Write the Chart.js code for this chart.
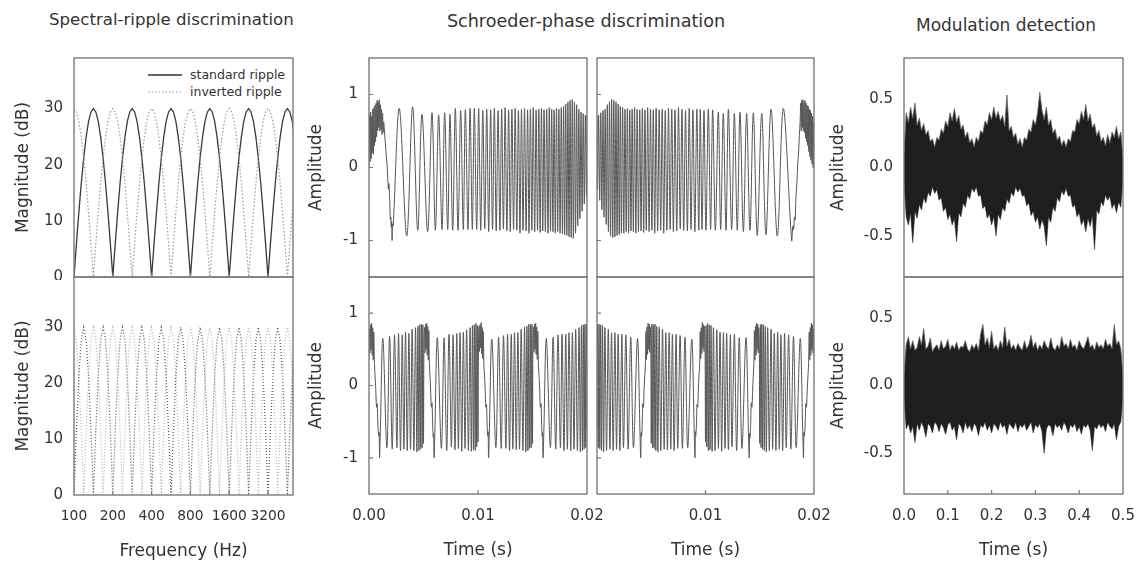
<!DOCTYPE html>
<html><head><meta charset="utf-8">
<script src="https://cdn.jsdelivr.net/npm/chart.js@4.4.1/dist/chart.umd.min.js"></script>
<style>
html,body{margin:0;padding:0;background:#fff;}
#wrap{position:relative;width:1145px;height:563px;overflow:hidden;font-family:'DejaVu Sans',sans-serif;color:#333;}
canvas{position:absolute;}
.title{position:absolute;font-size:17px;line-height:20px;white-space:nowrap;}
.leg{position:absolute;font-size:12.5px;line-height:16px;height:16px;white-space:nowrap;}
.leg svg{vertical-align:top;}
</style></head><body><div id="wrap">
<div class="title" style="left:49px;top:10px;font-size:16.6px">Spectral-ripple discrimination</div>
<div class="title" style="left:586px;top:11px;font-size:17.6px;transform:translateX(-50%)">Schroeder-phase discrimination</div>
<div class="title" style="left:916px;top:15px">Modulation detection</div>
<div class="leg" style="left:148px;top:67px"><svg width="34" height="16"><line x1="0" y1="8" x2="34" y2="8" stroke="#333" stroke-width="1.3"/></svg><span style="margin-left:8px">standard ripple</span></div>
<div class="leg" style="left:148px;top:84px"><svg width="34" height="16"><line x1="0" y1="8" x2="34" y2="8" stroke="#999" stroke-width="1.2" stroke-dasharray="1.5,2"/></svg><span style="margin-left:8px">inverted ripple</span></div>
</div>
<script>
// ---------------- data ----------------
// Spectral ripple (dB), sampled every 1/16 octave from 100 Hz
const freqGridStart = 100;
const freqGridStepOct = 1/16;
const freqTicks = [100, 200, 400, 800, 1600, 3200];
const magTicks = [0, 10, 20, 30];
const rippleTopStandard = [0,5.9,11.5,16.7,21.2,24.9,27.7,29.4,30,29.4,27.7,24.9,21.2,16.7,11.5,5.9,
0,5.9,11.5,16.7,21.2,24.9,27.7,29.4,30,29.4,27.7,24.9,21.2,16.7,11.5,5.9,
0,5.9,11.5,16.7,21.2,24.9,27.7,29.4,30,29.4,27.7,24.9,21.2,16.7,11.5,5.9,
0,5.9,11.5,16.7,21.2,24.9,27.7,29.4,30,29.4,27.7,24.9,21.2,16.7,11.5,5.9,
0,5.9,11.5,16.7,21.2,24.9,27.7,29.4,30,29.4,27.7,24.9,21.2,16.7,11.5,5.9,
0,5.9,11.5,16.7,21.2,24.9,27.7,29.4,30,29.4,27.7,24.9];
const rippleTopInverted = [30,29.4,27.7,24.9,21.2,16.7,11.5,5.9,0,5.9,11.5,16.7,21.2,24.9,27.7,29.4,
30,29.4,27.7,24.9,21.2,16.7,11.5,5.9,0,5.9,11.5,16.7,21.2,24.9,27.7,29.4,
30,29.4,27.7,24.9,21.2,16.7,11.5,5.9,0,5.9,11.5,16.7,21.2,24.9,27.7,29.4,
30,29.4,27.7,24.9,21.2,16.7,11.5,5.9,0,5.9,11.5,16.7,21.2,24.9,27.7,29.4,
30,29.4,27.7,24.9,21.2,16.7,11.5,5.9,0,5.9,11.5,16.7,21.2,24.9,27.7,29.4,
30,29.4,27.7,24.9,21.2,16.7,11.5,5.9,0,5.9,11.5,16.7];
const rippleBottomStandard = [0,11.5,21.2,27.7,30,27.7,21.2,11.5, 0,11.5,21.2,27.7,30,27.7,21.2,11.5,
0,11.5,21.2,27.7,30,27.7,21.2,11.5, 0,11.5,21.2,27.7,30,27.7,21.2,11.5,
0,11.5,21.2,27.7,30,27.7,21.2,11.5, 0,11.5,21.2,27.7,30,27.7,21.2,11.5,
0,11.5,21.2,27.7,30,27.7,21.2,11.5, 0,11.5,21.2,27.7,30,27.7,21.2,11.5,
0,11.5,21.2,27.7,30,27.7,21.2,11.5, 0,11.5,21.2,27.7,30,27.7,21.2,11.5,
0,11.5,21.2,27.7,30,27.7,21.2,11.5, 0,11.5,21.2,27.7];
const rippleBottomInverted = [30,27.7,21.2,11.5,0,11.5,21.2,27.7, 30,27.7,21.2,11.5,0,11.5,21.2,27.7,
30,27.7,21.2,11.5,0,11.5,21.2,27.7, 30,27.7,21.2,11.5,0,11.5,21.2,27.7,
30,27.7,21.2,11.5,0,11.5,21.2,27.7, 30,27.7,21.2,11.5,0,11.5,21.2,27.7,
30,27.7,21.2,11.5,0,11.5,21.2,27.7, 30,27.7,21.2,11.5,0,11.5,21.2,27.7,
30,27.7,21.2,11.5,0,11.5,21.2,27.7, 30,27.7,21.2,11.5,0,11.5,21.2,27.7,
30,27.7,21.2,11.5,0,11.5,21.2,27.7, 30,27.7,21.2,11.5];

// Schroeder-phase waveforms: [time (ms), amplitude] at turning points
const ampTicks = [-1, 0, 1];
const timeTicksLeft = [0, 0.01, 0.02];
const timeTicksRight = [0.01, 0.02];
const schroederTopLeft = [
[0,0.0],[0.05,0.72],[0.1,0.08],[0.15,0.76],[0.2,0.12],[0.25,0.7],[0.3,0.2],[0.35,0.8],[0.4,0.18],[0.45,0.82],[0.5,0.3],[0.55,0.85],[0.6,0.35],[0.65,0.88],[0.7,0.42],[0.75,0.92],[0.8,0.5],[0.85,0.9],[0.9,0.55],[0.95,0.93],[1.0,0.5],[1.05,0.86],[1.1,0.52],[1.15,0.8],[1.2,0.45],[1.25,0.74],[1.3,0.48],[1.35,0.62],[1.42,0.5],
[1.55,0.22],[1.65,0.05],[1.72,-0.15],[1.78,-0.3],[1.83,-0.22],[1.9,-0.45],[1.96,-0.72],[2.0,-0.68],[2.04,-0.82],[2.08,-0.74],[2.12,-1.0],[2.17,-0.78],[2.22,-0.8],
[2.78,0.81],[3.46,-0.94],[4.0,0.83],[4.47,-0.86],[4.86,0.73],[5.38,-0.88],[5.78,0.75],[6.09,-0.86],[6.39,0.72],[6.70,-0.85],[6.94,0.75],[7.22,-0.85],[7.43,0.73],[7.68,-0.86],[7.92,0.81],[8.17,-0.86],[8.41,0.78],[8.65,-0.85],[8.84,0.79],[9.08,-0.85],[9.27,0.81],[9.48,-0.85],[9.66,0.81],[9.88,-0.85],[10.06,0.81],
[10.25,-0.86],[10.44,0.78],[10.62,-0.84],[10.80,0.8],[10.98,-0.88],[11.16,0.79],[11.33,-0.85],[11.50,0.81],[11.67,-0.87],[11.84,0.78],[12.01,-0.86],[12.17,0.8],[12.33,-0.84],[12.49,0.82],[12.65,-0.87],[12.81,0.79],[12.96,-0.88],[13.11,0.8],[13.26,-0.85],[13.41,0.81],[13.56,-0.86],[13.71,0.78],[13.85,-0.9],[13.99,0.8],
[14.13,-0.86],[14.27,0.81],[14.41,-0.87],[14.55,0.79],[14.68,-0.9],[14.81,0.8],[14.94,-0.86],[15.07,0.82],[15.20,-0.88],[15.33,0.79],[15.46,-0.86],[15.58,0.8],[15.70,-0.89],[15.82,0.81],[15.94,-0.87],[16.06,0.79],[16.18,-0.88],[16.30,0.8],[16.42,-0.9],[16.54,0.82],[16.65,-0.87],[16.76,0.8],[16.87,-0.88],[16.98,0.79],
[17.09,-0.9],[17.20,0.81],[17.31,-0.88],[17.42,0.8],[17.53,-0.9],[17.64,0.82],[17.75,-0.91],[17.85,0.84],[17.95,-0.92],[18.05,0.87],[18.15,-0.93],[18.25,0.9],[18.35,-0.95],[18.45,0.92],[18.55,-0.96],[18.65,0.93],[18.75,-0.97],[18.85,0.9],[18.95,-0.9],[19.05,0.86],[19.15,-0.8],[19.25,0.8],[19.35,-0.7],[19.45,0.76],[19.55,-0.6],[19.65,0.74],[19.75,-0.5],[19.85,0.72],[19.95,-0.4],[20.0,0.7]
];
const schroederTopRight = [
[0,0.7],[0.05,-0.3],[0.15,0.72],[0.25,-0.45],[0.35,0.75],[0.45,-0.58],[0.55,0.78],[0.65,-0.68],[0.75,0.8],[0.85,-0.78],[0.95,0.86],[1.05,-0.88],[1.15,0.9],[1.25,-0.94],[1.35,0.93],[1.45,-0.96],[1.55,0.92],[1.65,-0.95],[1.75,0.9],[1.85,-0.93],[1.95,0.87],[2.05,-0.92],[2.15,0.84],[2.25,-0.9],[2.36,0.82],[2.47,-0.9],[2.58,0.8],[2.69,-0.88],[2.80,0.81],[2.91,-0.9],[3.02,0.79],[3.13,-0.87],[3.24,0.8],[3.35,-0.88],[3.46,0.82],[3.58,-0.9],[3.70,0.8],[3.82,-0.88],[3.94,0.79],[4.06,-0.87],[4.18,0.81],[4.30,-0.89],[4.42,0.79],[4.54,-0.86],[4.67,0.82],[4.80,-0.88],[4.93,0.8],[5.06,-0.86],[5.19,0.79],[5.32,-0.9],[5.45,0.81],[5.59,-0.87],[5.73,0.79],[5.87,-0.86],[6.01,0.8],[6.15,-0.9],[6.29,0.78],[6.44,-0.86],[6.59,0.81],[6.74,-0.85],[6.89,0.8],[7.04,-0.88],[7.19,0.79],[7.35,-0.87],[7.51,0.82],[7.67,-0.84],[7.83,0.8],[7.99,-0.86],[8.16,0.78],[8.33,-0.87],[8.50,0.81],[8.67,-0.85],[8.84,0.79],[9.02,-0.88],[9.20,0.8],[9.38,-0.86],
[9.52,0.8],[9.68,-0.85],[9.86,0.78],[10.04,-0.86],[10.26,0.8],[10.47,-0.85],[10.66,0.79],[10.91,-0.86],[11.18,0.76],[11.40,-0.85],[11.64,0.74],[11.89,-0.86],[12.11,0.8],[12.41,-0.85],[12.66,0.74],[12.93,-0.86],[13.18,0.76],[13.49,-0.88],[13.79,0.74],[14.1,-0.86],[14.41,0.75],[14.77,-0.93],[15.18,0.74],[15.57,-0.92],[16.04,0.8],[16.62,-0.94],[17.17,0.81],[17.94,-1.0],
[18.05,-0.8],[18.12,-0.85],[18.2,-0.68],[18.26,-0.72],[18.34,-0.4],[18.42,-0.22],[18.5,0.05],[18.58,0.2],[18.65,0.45],[18.72,0.62],
[18.77,0.88],[18.82,0.5],[18.87,0.92],[18.92,0.55],[18.97,0.93],[19.02,0.5],[19.07,0.9],[19.12,0.48],[19.17,0.92],[19.22,0.4],[19.27,0.88],[19.32,0.35],[19.37,0.85],[19.42,0.3],[19.47,0.84],[19.52,0.22],[19.57,0.8],[19.62,0.15],[19.67,0.78],[19.72,0.1],[19.77,0.74],[19.82,0.05],[19.87,0.7],[19.92,0.0],[19.97,0.62],[20.0,0.3]
];
const schroederBottomLeft = [
[0,0.4],[0.04,0.78],[0.09,0.45],[0.14,0.84],[0.19,0.5],[0.24,0.86],[0.29,0.42],[0.34,0.8],[0.39,0.35],[0.44,0.74],[0.5,0.3],
[0.55,0.15],[0.62,-0.05],[0.69,-0.3],[0.75,-0.25],[0.82,-0.55],[0.89,-0.7],[0.93,-0.65],[0.97,-1.0],[1.03,-0.7],
[1.27,0.65],[1.64,-0.86],[1.89,0.68],[2.13,-0.88],[2.34,0.7],[2.56,-0.86],[2.71,0.72],[2.89,-0.9],[3.05,0.7],[3.2,-0.88],[3.35,0.74],[3.51,-0.9],[3.66,0.72],[3.81,-0.88],[3.96,0.78],[4.12,-0.9],[4.27,0.8],[4.39,-0.92],[4.49,0.82],[4.58,-0.9],[4.66,0.84],[4.74,-0.88],[4.81,0.85],[4.88,-0.86],[4.94,0.84],[5.0,-0.8],
[5.04,0.55],[5.09,0.8],[5.14,0.45],[5.19,0.85],[5.24,0.5],[5.29,0.86],[5.34,0.42],[5.39,0.82],[5.44,0.35],[5.49,0.76],[5.54,0.3],
[5.6,0.12],[5.66,-0.08],[5.72,-0.3],[5.78,-0.24],[5.84,-0.55],[5.9,-0.72],[5.93,-0.66],[5.97,-1.0],[6.03,-0.72],
[6.27,0.66],[6.64,-0.87],[6.89,0.66],[7.13,-0.9],[7.34,0.71],[7.56,-0.85],[7.71,0.7],[7.89,-0.89],[8.05,0.72],[8.2,-0.87],[8.35,0.73],[8.51,-0.91],[8.66,0.74],[8.81,-0.87],[8.96,0.77],[9.12,-0.9],[9.27,0.8],[9.39,-0.91],[9.49,0.83],[9.58,-0.89],[9.66,0.84],[9.74,-0.9],[9.81,0.86],[9.88,-0.85],[9.94,0.83],[10.0,-0.78],
[10.04,0.52],[10.09,0.82],[10.14,0.47],[10.19,0.84],[10.24,0.52],[10.29,0.87],[10.34,0.44],[10.39,0.8],[10.44,0.37],[10.49,0.75],[10.54,0.28],
[10.6,0.14],[10.66,-0.06],[10.72,-0.3],[10.78,-0.26],[10.84,-0.56],[10.9,-0.7],[10.93,-0.64],[10.97,-1.0],[11.03,-0.7],
[11.27,0.64],[11.64,-0.86],[11.89,0.67],[12.13,-0.87],[12.34,0.69],[12.56,-0.87],[12.71,0.71],[12.89,-0.9],[13.05,0.71],[13.2,-0.88],[13.35,0.73],[13.51,-0.89],[13.66,0.73],[13.81,-0.88],[13.96,0.78],[14.12,-0.9],[14.27,0.81],[14.39,-0.92],[14.49,0.82],[14.58,-0.9],[14.66,0.85],[14.74,-0.87],[14.81,0.84],[14.88,-0.86],[14.94,0.85],[15.0,-0.8],
[15.04,0.54],[15.09,0.81],[15.14,0.46],[15.19,0.85],[15.24,0.5],[15.29,0.86],[15.34,0.43],[15.39,0.81],[15.44,0.36],[15.49,0.75],[15.54,0.3],
[15.6,0.13],[15.66,-0.06],[15.72,-0.3],[15.78,-0.25],[15.84,-0.55],[15.9,-0.71],[15.93,-0.65],[15.97,-1.0],[16.03,-0.71],
[16.27,0.65],[16.64,-0.86],[16.89,0.67],[17.13,-0.88],[17.34,0.7],[17.56,-0.86],[17.71,0.71],[17.89,-0.9],[18.05,0.71],[18.2,-0.88],[18.35,0.73],[18.51,-0.9],[18.66,0.73],[18.81,-0.88],[18.96,0.78],[19.12,-0.9],[19.27,0.8],[19.39,-0.92],[19.49,0.83],[19.58,-0.9],[19.66,0.84],[19.74,-0.88],[19.81,0.85],[19.88,-0.86],[19.94,0.84],[20.0,-0.6]
];
const schroederBottomRight = [
[0,-0.6],[0.06,0.84],[0.12,-0.86],[0.19,0.85],[0.26,-0.88],[0.34,0.84],[0.42,-0.9],[0.51,0.83],[0.61,-0.92],[0.73,0.8],[0.88,-0.9],[1.04,0.78],[1.19,-0.88],[1.34,0.73],[1.49,-0.9],[1.65,0.73],[1.8,-0.88],[1.95,0.71],[2.11,-0.9],[2.29,0.71],[2.44,-0.86],[2.66,0.7],[2.87,-0.88],[3.11,0.67],[3.36,-0.86],[3.73,0.65],
[3.97,-0.71],[4.03,-1.0],[4.07,-0.65],[4.1,-0.71],[4.16,-0.55],[4.22,-0.25],[4.28,-0.3],[4.34,-0.06],[4.4,0.13],
[4.46,0.3],[4.51,0.75],[4.56,0.36],[4.61,0.81],[4.66,0.43],[4.71,0.86],[4.76,0.5],[4.81,0.85],[4.86,0.46],[4.91,0.81],[4.96,0.54],
[5.0,-0.8],[5.06,0.85],[5.12,-0.86],[5.19,0.84],[5.26,-0.87],[5.34,0.85],[5.42,-0.9],[5.51,0.82],[5.61,-0.92],[5.73,0.81],[5.88,-0.9],[6.04,0.78],[6.19,-0.88],[6.34,0.73],[6.49,-0.89],[6.65,0.73],[6.8,-0.88],[6.95,0.71],[7.11,-0.9],[7.29,0.71],[7.44,-0.87],[7.66,0.69],[7.87,-0.87],[8.11,0.67],[8.36,-0.86],[8.73,0.64],
[8.97,-0.7],[9.03,-1.0],[9.07,-0.64],[9.1,-0.7],[9.16,-0.56],[9.22,-0.26],[9.28,-0.3],[9.34,-0.06],[9.4,0.14],
[9.46,0.28],[9.51,0.75],[9.56,0.37],[9.61,0.8],[9.66,0.44],[9.71,0.87],[9.76,0.52],[9.81,0.84],[9.86,0.47],[9.91,0.82],[9.96,0.52],
[10.0,-0.78],[10.06,0.83],[10.12,-0.85],[10.19,0.86],[10.26,-0.9],[10.34,0.84],[10.42,-0.89],[10.51,0.83],[10.61,-0.91],[10.73,0.8],[10.88,-0.9],[11.04,0.77],[11.19,-0.87],[11.34,0.74],[11.49,-0.91],[11.65,0.73],[11.8,-0.87],[11.95,0.72],[12.11,-0.89],[12.29,0.7],[12.44,-0.85],[12.66,0.71],[12.87,-0.9],[13.11,0.66],[13.36,-0.87],[13.73,0.66],
[13.97,-0.72],[14.03,-1.0],[14.07,-0.66],[14.1,-0.72],[14.16,-0.55],[14.22,-0.24],[14.28,-0.3],[14.34,-0.08],[14.4,0.12],
[14.46,0.3],[14.51,0.76],[14.56,0.35],[14.61,0.82],[14.66,0.42],[14.71,0.86],[14.76,0.5],[14.81,0.85],[14.86,0.45],[14.91,0.8],[14.96,0.55],
[15.0,-0.8],[15.06,0.84],[15.12,-0.86],[15.19,0.85],[15.26,-0.88],[15.34,0.84],[15.42,-0.9],[15.51,0.82],[15.61,-0.92],[15.73,0.8],[15.88,-0.9],[16.04,0.78],[16.19,-0.88],[16.34,0.72],[16.49,-0.9],[16.65,0.74],[16.8,-0.88],[16.95,0.7],[17.11,-0.9],[17.29,0.72],[17.44,-0.86],[17.66,0.7],[17.87,-0.88],[18.11,0.68],[18.36,-0.86],[18.73,0.65],
[18.97,-0.7],[19.03,-1.0],[19.07,-0.65],[19.11,-0.7],[19.18,-0.55],[19.25,-0.25],[19.31,-0.3],[19.38,-0.05],[19.45,0.15],
[19.5,0.3],[19.56,0.74],[19.61,0.35],[19.66,0.8],[19.71,0.42],[19.76,0.86],[19.81,0.5],[19.86,0.84],[19.91,0.45],[19.96,0.78],[20,0.4]
];

// Modulation detection: upper / lower edges of the noise band, every 5 ms
const modStep = 0.005;
const modTimeTicks = [0, 0.1, 0.2, 0.3, 0.4, 0.5];
const modAmpTicks = [-0.5, 0, 0.5];
const modTopUpper = [0.1,0.4,0.33,0.44,0.36,0.47,0.31,0.36,0.27,0.32,0.24,0.27,0.19,0.21,0.15,0.22,0.2,0.28,0.25,0.34,0.3,0.4,0.34,0.43,0.33,0.38,0.28,0.31,0.22,0.26,0.18,0.21,0.15,0.22,0.19,0.27,0.25,0.34,0.31,0.4,0.35,0.44,0.36,0.41,0.34,0.38,0.3,0.53,0.27,0.3,0.22,0.25,0.17,0.21,0.15,0.22,0.2,0.28,0.26,0.35,0.31,0.4,0.55,0.42,0.35,0.44,0.31,0.35,0.25,0.28,0.2,0.23,0.16,0.2,0.15,0.21,0.19,0.27,0.26,0.35,0.32,0.41,0.35,0.46,0.34,0.39,0.29,0.32,0.23,0.27,0.19,0.22,0.16,0.24,0.18,0.26,0.22,0.3,0.21,0.26,0.08];
const modTopLower = [-0.1,-0.36,-0.42,-0.33,-0.55,-0.32,-0.37,-0.27,-0.31,-0.22,-0.26,-0.18,-0.21,-0.14,-0.19,-0.16,-0.24,-0.22,-0.32,-0.29,-0.38,-0.34,-0.42,-0.37,-0.54,-0.33,-0.36,-0.26,-0.29,-0.2,-0.23,-0.15,-0.18,-0.14,-0.21,-0.2,-0.3,-0.28,-0.37,-0.34,-0.42,-0.36,-0.5,-0.34,-0.38,-0.29,-0.32,-0.23,-0.26,-0.18,-0.21,-0.14,-0.18,-0.15,-0.21,-0.2,-0.28,-0.26,-0.35,-0.32,-0.4,-0.36,-0.45,-0.38,-0.43,-0.57,-0.36,-0.4,-0.29,-0.32,-0.22,-0.25,-0.17,-0.2,-0.15,-0.21,-0.2,-0.29,-0.27,-0.36,-0.33,-0.42,-0.38,-0.47,-0.37,-0.43,-0.35,-0.6,-0.31,-0.34,-0.25,-0.28,-0.2,-0.24,-0.21,-0.3,-0.26,-0.33,-0.25,-0.29,-0.08];
const modBottomUpper = [0.08,0.3,0.36,0.27,0.33,0.26,0.28,0.36,0.3,0.42,0.27,0.29,0.35,0.25,0.28,0.3,0.26,0.33,0.27,0.29,0.34,0.26,0.3,0.27,0.32,0.26,0.29,0.28,0.33,0.27,0.25,0.3,0.27,0.31,0.26,0.38,0.45,0.3,0.35,0.28,0.4,0.27,0.3,0.26,0.33,0.28,0.43,0.29,0.34,0.27,0.3,0.26,0.31,0.28,0.26,0.33,0.27,0.3,0.37,0.28,0.32,0.26,0.3,0.27,0.33,0.29,0.27,0.35,0.28,0.26,0.3,0.27,0.36,0.29,0.31,0.27,0.34,0.28,0.3,0.26,0.33,0.29,0.27,0.31,0.36,0.28,0.3,0.26,0.32,0.28,0.3,0.27,0.34,0.29,0.31,0.27,0.45,0.3,0.33,0.27,0.08];
const modBottomLower = [-0.08,-0.32,-0.28,-0.35,-0.3,-0.42,-0.28,-0.33,-0.27,-0.31,-0.38,-0.28,-0.3,-0.35,-0.27,-0.29,-0.34,-0.28,-0.31,-0.36,-0.29,-0.27,-0.33,-0.3,-0.4,-0.28,-0.3,-0.35,-0.27,-0.32,-0.29,-0.34,-0.28,-0.3,-0.37,-0.29,-0.31,-0.27,-0.33,-0.29,-0.35,-0.28,-0.3,-0.33,-0.27,-0.31,-0.29,-0.36,-0.28,-0.3,-0.32,-0.27,-0.34,-0.29,-0.31,-0.28,-0.33,-0.3,-0.27,-0.35,-0.29,-0.31,-0.28,-0.34,-0.5,-0.32,-0.29,-0.3,-0.37,-0.28,-0.31,-0.29,-0.33,-0.27,-0.3,-0.35,-0.29,-0.31,-0.28,-0.34,-0.3,-0.36,-0.29,-0.31,-0.28,-0.33,-0.48,-0.3,-0.32,-0.28,-0.31,-0.29,-0.34,-0.27,-0.3,-0.32,-0.28,-0.4,-0.3,-0.27,-0.08];

// ---------------- helpers ----------------
Chart.defaults.font.family = "'DejaVu Sans', sans-serif";
Chart.defaults.color = '#333';

const rippleSeries = vals => vals.map((v, i) => ({x: freqGridStart * Math.pow(2, i * freqGridStepOct), y: v}));
const waveSeries = pairs => pairs.map(p => ({x: p[0] / 1000, y: p[1]}));
const bandSeries = vals => vals.map((v, i) => ({x: i * modStep, y: v}));

const framePlugin = {
  id: 'frame',
  afterDraw(chart, args, opts) {
    const {ctx, chartArea: a, scales} = chart;
    ctx.save();
    ctx.strokeStyle = '#7a7a7a';
    ctx.lineWidth = 1.4;
    ctx.strokeRect(a.left, a.top, a.right - a.left, a.bottom - a.top);
    ctx.lineWidth = 1.2;
    ctx.beginPath();
    (opts.xMarks || []).forEach(v => { const p = scales.x.getPixelForValue(v); ctx.moveTo(p, a.bottom); ctx.lineTo(p, a.bottom - 4); });
    (opts.yMarks || []).forEach(v => { const p = scales.y.getPixelForValue(v); ctx.moveTo(a.left, p); ctx.lineTo(a.left + 4, p); });
    ctx.stroke();
    ctx.restore();
  }
};

const wrap = document.getElementById('wrap');
function panel(o) {
  const padT = 3;
  const c = document.createElement('canvas');
  const w = o.lw + o.plotW + o.padR, h = padT + o.plotH + o.bh;
  c.width = w; c.height = h;
  c.style.width = w + 'px'; c.style.height = h + 'px';
  c.style.left = (o.left - o.lw) + 'px';
  c.style.top = (o.top - padT) + 'px';
  wrap.appendChild(c);
  new Chart(c, {
    type: 'line',
    data: {datasets: o.datasets},
    options: {
      responsive: false, animation: false, devicePixelRatio: 1, events: [],
      parsing: false, normalized: true,
      layout: {padding: {top: padT, right: o.padR, left: 0, bottom: 0}},
      elements: {point: {radius: 0}},
      plugins: {legend: {display: false}, tooltip: {enabled: false},
        frame: {xMarks: o.xMarks || [], yMarks: o.yMarks || []}},
      scales: {
        x: {
          type: o.xType || 'linear', min: o.xMin, max: o.xMax,
          grid: {display: false, drawTicks: false}, border: {display: false},
          ticks: {display: !!o.showX, padding: 13, font: {size: o.xFont || 15}, color: '#333', autoSkip: false, maxRotation: 0, minRotation: 0, callback: o.xFmt},
          title: {display: !!o.xTitle, text: o.xTitle || '', font: {size: 17}, color: '#333', padding: {top: 0, bottom: o.xTitlePad || 0}},
          afterBuildTicks: s => { s.ticks = o.xTicks.map(v => ({value: v})); },
          afterFit: s => { s.height = o.bh; s.paddingLeft = 0; s.paddingRight = 0; s.paddingTop = 0; s.paddingBottom = 0; }
        },
        y: {
          type: 'linear', min: o.yMin, max: o.yMax,
          grid: {display: false, drawTicks: false}, border: {display: false},
          ticks: {display: !!o.showY, padding: 11, font: {size: 15}, color: '#333', callback: o.yFmt},
          title: {display: !!o.yTitle, text: o.yTitle || '', font: {size: 17}, color: '#333', padding: {top: o.yTitlePad || 0, bottom: 0}},
          afterBuildTicks: s => { s.ticks = o.yTicks.map(v => ({value: v})); },
          afterFit: s => { s.width = o.lw; s.paddingLeft = 0; s.paddingRight = 0; s.paddingTop = 0; s.paddingBottom = 0; }
        }
      }
    },
    plugins: [framePlugin]
  });
}

const lineDs = (data, color, width, dash, tension) => ({data, borderColor: color, borderWidth: width, borderDash: dash || [], tension: tension || 0, fill: false, pointRadius: 0});

// ---- Spectral ripple ----
const freqFmt = v => String(v);
const magFmt = v => String(v);
panel({left: 74, top: 58, plotW: 219, plotH: 219, lw: 74, bh: 3, padR: 3,
  xType: 'logarithmic', xMin: 100, xMax: 5000, xTicks: freqTicks, xFmt: freqFmt,
  yMin: 0, yMax: 39, yTicks: magTicks, yFmt: magFmt, showY: true, yTitle: 'Magnitude (dB)', yTitlePad: 13,
  xMarks: freqTicks.slice(1),
  datasets: [lineDs(rippleSeries(rippleTopInverted), '#9a9a9a', 1.2, [1.5, 2]),
             lineDs(rippleSeries(rippleTopStandard), '#3a3a3a', 1.3)]});
panel({left: 74, top: 277, plotW: 219, plotH: 218, lw: 74, bh: 68, padR: 3,
  xType: 'logarithmic', xMin: 100, xMax: 5000, xTicks: freqTicks, xFmt: freqFmt, xFont: 13.8, showX: true, xTitle: 'Frequency (Hz)', xTitlePad: 1,
  yMin: 0, yMax: 39, yTicks: magTicks, yFmt: magFmt, showY: true, yTitle: 'Magnitude (dB)', yTitlePad: 13,
  xMarks: freqTicks.slice(1),
  datasets: [lineDs(rippleSeries(rippleBottomInverted), '#b4b4b4', 1.2, [1, 2]),
             lineDs(rippleSeries(rippleBottomStandard), '#555', 1.2, [1, 2])]});

// ---- Schroeder phase ----
const timeFmt = v => v.toFixed(2);
const ampFmt = v => String(v);
const waveColor = '#555';
panel({left: 369, top: 58, plotW: 218, plotH: 219, lw: 75, bh: 3, padR: 3,
  xMin: 0, xMax: 0.02, xTicks: timeTicksLeft, xFmt: timeFmt,
  yMin: -1.5, yMax: 1.5, yTicks: ampTicks, yFmt: ampFmt, showY: true, yTitle: 'Amplitude', yTitlePad: 12,
  yMarks: ampTicks,
  datasets: [lineDs(waveSeries(schroederTopLeft), waveColor, 1, null, 0.35)]});
panel({left: 597, top: 58, plotW: 217, plotH: 219, lw: 5, bh: 3, padR: 3,
  xMin: 0, xMax: 0.02, xTicks: timeTicksRight, xFmt: timeFmt,
  yMin: -1.5, yMax: 1.5, yTicks: ampTicks, yFmt: ampFmt,
  yMarks: ampTicks,
  datasets: [lineDs(waveSeries(schroederTopRight), waveColor, 1, null, 0.35)]});
panel({left: 369, top: 277, plotW: 218, plotH: 217, lw: 75, bh: 69, padR: 22,
  xMin: 0, xMax: 0.02, xTicks: timeTicksLeft, xFmt: timeFmt, xFont: 15, showX: true, xTitle: 'Time (s)', xTitlePad: 2,
  yMin: -1.5, yMax: 1.5, yTicks: ampTicks, yFmt: ampFmt, showY: true, yTitle: 'Amplitude', yTitlePad: 12,
  xMarks: [0.01], yMarks: ampTicks,
  datasets: [lineDs(waveSeries(schroederBottomLeft), waveColor, 1, null, 0.35)]});
panel({left: 597, top: 277, plotW: 217, plotH: 217, lw: 5, bh: 69, padR: 24,
  xMin: 0, xMax: 0.02, xTicks: timeTicksRight, xFmt: timeFmt, xFont: 15, showX: true, xTitle: 'Time (s)', xTitlePad: 2,
  yMin: -1.5, yMax: 1.5, yTicks: ampTicks, yFmt: ampFmt,
  xMarks: [0.01], yMarks: ampTicks,
  datasets: [lineDs(waveSeries(schroederBottomRight), waveColor, 1, null, 0.35)]});

// ---- Modulation detection ----
const modTimeFmt = v => v.toFixed(1);
const modAmpFmt = v => v.toFixed(1);
const bandDs = (upper, lower) => [
  {data: bandSeries(upper), borderColor: '#666', borderWidth: 0.8, backgroundColor: '#1e1e1e', fill: '+1', tension: 0, pointRadius: 0},
  {data: bandSeries(lower), borderColor: '#666', borderWidth: 0.8, fill: false, tension: 0, pointRadius: 0}
];
panel({left: 904, top: 58, plotW: 219, plotH: 219, lw: 94, bh: 3, padR: 3,
  xMin: 0, xMax: 0.5, xTicks: modTimeTicks, xFmt: modTimeFmt,
  yMin: -0.8, yMax: 0.8, yTicks: modAmpTicks, yFmt: modAmpFmt, showY: true, yTitle: 'Amplitude', yTitlePad: 18,
  datasets: bandDs(modTopUpper, modTopLower)});
panel({left: 904, top: 277, plotW: 219, plotH: 217, lw: 94, bh: 69, padR: 21,
  xMin: 0, xMax: 0.5, xTicks: modTimeTicks, xFmt: modTimeFmt, showX: true, xTitle: 'Time (s)', xTitlePad: 2,
  yMin: -0.8, yMax: 0.8, yTicks: modAmpTicks, yFmt: modAmpFmt, showY: true, yTitle: 'Amplitude', yTitlePad: 18,
  xMarks: [0.1, 0.2, 0.3, 0.4],
  datasets: bandDs(modBottomUpper, modBottomLower)});
</script>
</body></html>
